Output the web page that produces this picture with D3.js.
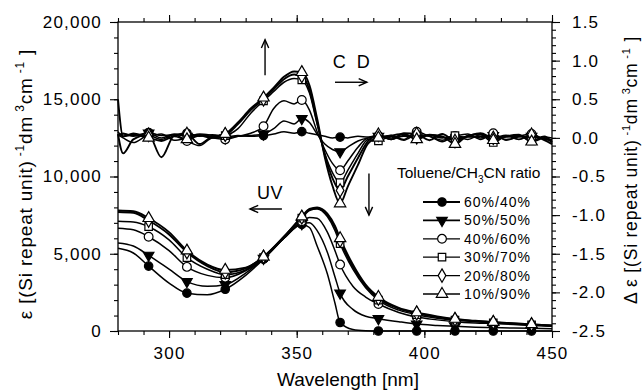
<!DOCTYPE html>
<html>
<head>
<meta charset="utf-8">
<script src="https://cdn.jsdelivr.net/npm/d3@7"></script>
<style>
  body { margin: 0; background: #fff; }
  svg { font-family: "Liberation Sans", Arial, Helvetica, sans-serif; }
</style>
</head>
<body>
<svg width="643" height="390"></svg>
<script>
// toluene/CH3CN ratios, in legend order
const ratios = ['60%/40%', '50%/50%', '40%/60%', '30%/70%', '20%/80%', '10%/90%']
// wavelengths carrying a marker
const markerWl = [292, 307, 322, 337, 352, 367, 382, 397, 412, 427, 442]

// UV absorption, epsilon (left axis)
const uvWl = [280, 286, 292, 300, 307, 315, 322, 330, 337, 345, 352, 355, 358, 362, 365, 367, 372, 377, 382, 390, 397, 405, 412, 420, 427, 435, 442, 450]
const uv6040 = [5350, 5050, 4200, 3100, 2450, 2350, 2700, 3600, 4650, 6000, 6900, 6700, 5500, 3700, 1800, 550, 100, 20, 0, 0, 0, 0, 0, 0, 0, 0, 0, 0]
const uv5050 = [5700, 5500, 4900, 4000, 3200, 2900, 3000, 3750, 4700, 6000, 6950, 7000, 6500, 5100, 3500, 2450, 1400, 950, 800, 600, 450, 360, 300, 250, 220, 190, 170, 150]
const uv4060 = [6650, 6550, 6100, 5200, 4150, 3600, 3450, 3900, 4700, 6000, 7100, 7350, 7300, 6400, 5200, 4300, 2900, 2200, 1750, 1200, 900, 720, 600, 520, 480, 420, 360, 300]
const uv3070 = [7100, 7050, 6750, 5900, 4750, 4000, 3650, 3950, 4750, 6050, 7300, 7800, 7900, 7400, 6500, 5650, 4000, 2800, 2000, 1350, 1050, 830, 700, 600, 520, 450, 400, 330]
const uv2080 = [7700, 7650, 7150, 6250, 5100, 4200, 3800, 4050, 4800, 6100, 7350, 7850, 7950, 7500, 6700, 5850, 4150, 2900, 2100, 1450, 1150, 900, 750, 640, 560, 480, 420, 350]
const uv1090 = [7800, 7750, 7300, 6400, 5200, 4300, 3950, 4100, 4800, 6100, 7400, 7900, 8000, 7600, 6800, 6000, 4300, 3000, 2200, 1500, 1200, 950, 780, 660, 580, 500, 430, 360]

// CD, delta epsilon (right axis)
const cdWl = [280, 282, 286, 292, 297, 302, 307, 312, 317, 322, 327, 332, 337, 341, 345, 349, 352, 355, 358, 361, 364, 367, 370, 374, 378, 382, 387, 392, 397, 402, 407, 412, 417, 422, 427, 432, 437, 442, 447, 450]
const cd6040 = [0.03, 0.06, 0.02, 0.07, 0.03, 0.04, 0.06, 0.02, 0.04, 0.01, 0.03, 0.02, 0.03, 0.05, 0.08, 0.06, 0.08, 0.06, 0.04, 0.02, 0.00, 0.01, 0.00, 0.02, 0.01, 0.03, 0.00, 0.02, 0.01, 0.03, 0.00, 0.02, 0.01, 0.02, 0.00, 0.01, 0.02, 0.00, 0.01, 0.00]
const cd5050 = [0.02, 0.05, 0.03, 0.06, 0.00, 0.05, 0.02, 0.05, 0.03, 0.00, 0.02, 0.03, 0.05, 0.12, 0.22, 0.18, 0.25, 0.20, 0.05, -0.08, -0.15, -0.18, -0.12, -0.04, 0.00, 0.02, -0.02, 0.03, 0.00, 0.04, 0.01, -0.03, 0.02, 0.00, 0.03, -0.02, 0.01, 0.02, -0.01, -0.02]
const cd4060 = [0.04, 0.00, -0.06, 0.03, -0.02, 0.04, -0.04, -0.10, 0.00, -0.02, 0.02, 0.06, 0.15, 0.38, 0.48, 0.44, 0.49, 0.36, 0.08, -0.15, -0.33, -0.42, -0.30, -0.12, 0.00, 0.00, 0.03, -0.02, 0.08, 0.02, -0.03, 0.02, 0.05, -0.02, 0.06, -0.03, 0.02, 0.05, -0.02, -0.03]
const cd3070 = [0.08, 0.02, 0.06, 0.02, 0.05, -0.03, 0.00, 0.04, 0.01, 0.03, 0.12, 0.32, 0.48, 0.60, 0.72, 0.77, 0.75, 0.58, 0.18, -0.20, -0.45, -0.58, -0.42, -0.20, -0.02, -0.04, 0.02, -0.03, 0.04, 0.02, -0.05, 0.03, -0.02, 0.04, -0.06, 0.02, 0.03, -0.04, 0.02, -0.05]
const cd2080 = [0.05, -0.20, -0.02, 0.04, -0.25, 0.03, 0.05, -0.08, 0.02, 0.04, 0.18, 0.36, 0.50, 0.63, 0.76, 0.82, 0.80, 0.62, 0.20, -0.22, -0.52, -0.68, -0.50, -0.26, -0.04, 0.04, -0.02, 0.06, 0.05, -0.03, 0.05, -0.04, 0.02, 0.06, 0.00, 0.03, -0.02, 0.04, -0.03, -0.08]
const cd1090 = [0.50, 0.02, 0.04, 0.00, -0.04, 0.02, -0.02, 0.03, 0.00, 0.05, 0.20, 0.38, 0.52, 0.65, 0.79, 0.86, 0.85, 0.68, 0.25, -0.25, -0.62, -0.85, -0.63, -0.35, -0.07, 0.00, 0.03, 0.05, -0.02, 0.04, 0.02, -0.08, 0.03, 0.05, -0.03, 0.02, 0.04, -0.05, 0.00, -0.06]

// tick labels
const xTicks = [300, 350, 400, 450]
const uvTicks = [0, 5000, 10000, 15000, 20000]
const cdTicks = [-2.5, -2.0, -1.5, -1.0, -0.5, 0.0, 0.5, 1.0, 1.5]

const uvSeries = [uv6040, uv5050, uv4060, uv3070, uv2080, uv1090]
const cdSeries = [cd6040, cd5050, cd4060, cd3070, cd2080, cd1090]

const svg = d3.select('svg')
const pad = { left: 118, right: 552, top: 22, bottom: 331 }

const x = d3.scaleLinear().domain([280, 450]).range([pad.left, pad.right])
const yUV = d3.scaleLinear().domain([0, 20000]).range([pad.bottom, pad.top])
const yCD = d3.scaleLinear().domain([-2.5, 1.5]).range([pad.bottom, pad.top])

// marker look per ratio
const marks = [
  { type: d3.symbolCircle, size: 56, fill: '#000', rot: 0 },
  { type: d3.symbolTriangle, size: 48, fill: '#000', rot: 180 },
  { type: d3.symbolCircle, size: 60, fill: '#fff', rot: 0 },
  { type: d3.symbolSquare, size: 56, fill: '#fff', rot: 0 },
  { type: d3.symbolDiamond, size: 52, fill: '#fff', rot: 0 },
  { type: d3.symbolTriangle, size: 56, fill: '#fff', rot: 0 }
]

function drawMarker(g, i, cx, cy) {
  const m = marks[i]
  g.append('path')
    .attr('d', d3.symbol().type(m.type).size(m.size)())
    .attr('transform', `translate(${cx},${cy}) rotate(${m.rot})`)
    .attr('fill', m.fill)
    .attr('stroke', '#000')
    .attr('stroke-width', 1.2)
}

// axes
const tickFont = g => g.selectAll('text')
  .attr('font-size', 17).attr('letter-spacing', 1.2).attr('fill', '#000')
  .attr('font-family', '"Liberation Sans", Arial, sans-serif')
const clean = g => { g.select('.domain').remove(); g.selectAll('line').attr('stroke', '#000').attr('stroke-width', 1.1) }

svg.append('g').attr('transform', `translate(0,${pad.bottom})`)
  .call(d3.axisBottom(x).tickValues(d3.range(280, 451, 10)).tickSize(4).tickFormat(''))
  .call(clean)
svg.append('g').attr('transform', `translate(0,${pad.bottom})`)
  .call(d3.axisBottom(x).tickValues(xTicks).tickSize(7).tickPadding(9).tickFormat(d3.format('d')))
  .call(clean).call(tickFont)

svg.append('g').attr('transform', `translate(0,${pad.top})`)
  .call(d3.axisTop(x).tickValues(d3.range(280, 451, 10)).tickSize(4).tickFormat(''))
  .call(clean)
svg.append('g').attr('transform', `translate(0,${pad.top})`)
  .call(d3.axisTop(x).tickValues(xTicks).tickSize(7).tickFormat(''))
  .call(clean)

svg.append('g').attr('transform', `translate(${pad.left},0)`)
  .call(d3.axisLeft(yUV).tickValues(d3.range(0, 20001, 1000)).tickSize(4).tickFormat(''))
  .call(clean)
svg.append('g').attr('transform', `translate(${pad.left},0)`)
  .call(d3.axisLeft(yUV).tickValues(uvTicks).tickSize(8).tickPadding(8).tickFormat(d3.format(',')))
  .call(clean).call(tickFont)

svg.append('g').attr('transform', `translate(${pad.right},0)`)
  .call(d3.axisRight(yCD).tickValues(d3.range(-25, 16).map(d => d / 10)).tickSize(4).tickFormat(''))
  .call(clean)
svg.append('g').attr('transform', `translate(${pad.right},0)`)
  .call(d3.axisRight(yCD).tickValues(cdTicks).tickSize(8).tickPadding(12).tickFormat(d => d.toFixed(1)))
  .call(clean).call(tickFont)

svg.append('rect')
  .attr('x', pad.left).attr('y', pad.top)
  .attr('width', pad.right - pad.left).attr('height', pad.bottom - pad.top)
  .attr('fill', 'none').attr('stroke', '#000').attr('stroke-width', 1.3)

// curves
const plot = svg.append('g')
function drawSet(wl, set, y) {
  set.forEach((vals, i) => {
    const pts = wl.map((w, k) => [w, vals[k]])
    plot.append('path')
      .attr('d', d3.line().x(d => x(d[0])).y(d => y(d[1])).curve(d3.curveMonotoneX)(pts))
      .attr('fill', 'none').attr('stroke', '#000')
      .attr('stroke-width', i >= 4 ? 1.9 : 1.5)
      .attr('stroke-linejoin', 'round')
  })
  set.forEach((vals, i) => {
    wl.forEach((w, k) => {
      if (markerWl.includes(w)) drawMarker(plot, i, x(w), y(vals[k]))
    })
  })
}
drawSet(uvWl, uvSeries, yUV)
drawSet(cdWl, cdSeries, yCD)

// annotations: arrows and labels
function arrow(x1, y1, x2, y2) {
  const a = Math.atan2(y2 - y1, x2 - x1), h = 9, s = 0.42
  svg.append('line').attr('x1', x1).attr('y1', y1).attr('x2', x2).attr('y2', y2)
    .attr('stroke', '#000').attr('stroke-width', 1.4)
  svg.append('path')
    .attr('d', `M${x2 - h * Math.cos(a - s)},${y2 - h * Math.sin(a - s)}L${x2},${y2}L${x2 - h * Math.cos(a + s)},${y2 - h * Math.sin(a + s)}`)
    .attr('fill', 'none').attr('stroke', '#000').attr('stroke-width', 1.4)
}
arrow(x(337.6), yCD(0.81), x(337.6), yCD(1.27))
arrow(x(365), yCD(0.72), x(377.5), yCD(0.72))
arrow(x(378.3), yCD(-0.46), x(378.3), yCD(-1.0))
arrow(x(344.2), yUV(7900), x(331.7), yUV(7900))

svg.append('text').attr('x', x(372)).attr('y', yCD(0.9)).attr('text-anchor', 'middle')
  .attr('font-size', 18).attr('letter-spacing', 3).text('C D')
svg.append('text').attr('x', x(339.5)).attr('y', yUV(8550)).attr('text-anchor', 'middle')
  .attr('font-size', 18).attr('letter-spacing', 0.5).text('UV')

// legend
const lg = svg.append('g')
const lt = lg.append('text').attr('x', 397).attr('y', 178).attr('font-size', 15.5)
lt.append('tspan').text('Toluene/CH')
lt.append('tspan').attr('font-size', 10).attr('dy', 5).text('3')
lt.append('tspan').attr('dy', -5).text('CN ratio')

ratios.forEach((r, i) => {
  const ly = 202 + i * 18.4
  lg.append('line').attr('x1', 423).attr('x2', 460).attr('y1', ly).attr('y2', ly)
    .attr('stroke', '#000').attr('stroke-width', i < 2 ? 1.8 : 1.3)
  drawMarker(lg, i, 442, ly)
  lg.append('text').attr('x', 464).attr('y', ly + 5).attr('font-size', 14)
    .attr('letter-spacing', 1).text(r)
})

// axis titles
svg.append('text').attr('x', 348).attr('y', 386).attr('text-anchor', 'middle')
  .attr('font-size', 19).text('Wavelength [nm]')

function yTitle(tx, ty, prefix, fs) {
  const t = svg.append('text').attr('transform', `translate(${tx},${ty}) rotate(-90)`)
    .attr('text-anchor', 'middle').attr('font-size', fs).attr('letter-spacing', 0.8)
  const sup = Math.round(fs * 0.62), up = Math.round(fs * 0.4)
  t.append('tspan').text(prefix + ' [(Si repeat unit)')
  t.append('tspan').attr('font-size', sup).attr('dy', -up).text(' -1')
  t.append('tspan').attr('dy', up).text('dm')
  t.append('tspan').attr('font-size', sup).attr('dy', -up).text(' 3')
  t.append('tspan').attr('dy', up).text('cm')
  t.append('tspan').attr('font-size', sup).attr('dy', -up).text(' -1')
  t.append('tspan').attr('dy', up).text(' ]')
}
yTitle(32, 184, 'ε', 19)
yTitle(637, 170, 'Δ ε', 17.5)
</script>
</body>
</html>
